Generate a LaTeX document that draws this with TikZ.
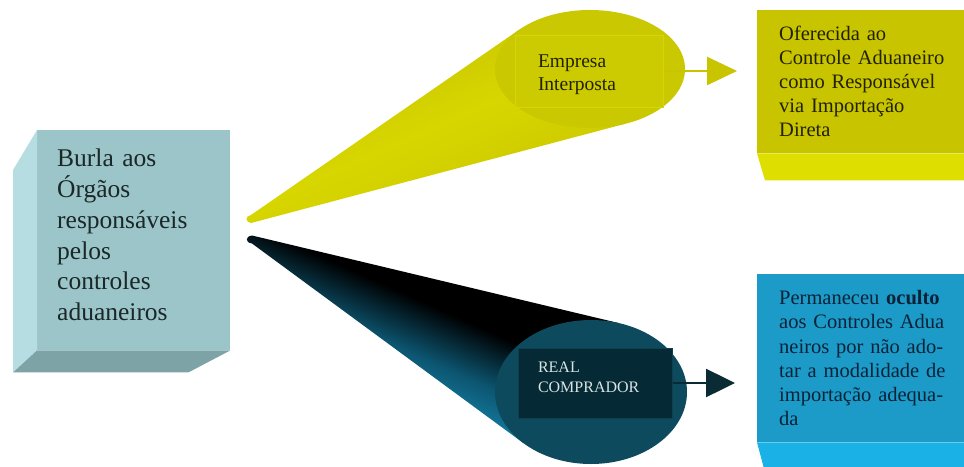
\documentclass[tikz,border=0pt]{standalone}
\usepackage{fontspec}
\setmainfont{Liberation Serif}
\usetikzlibrary{arrows.meta}
\definecolor{lfront}{HTML}{9CC5C9}
\definecolor{lside}{HTML}{B6DDE1}
\definecolor{lbottom}{HTML}{7DA3A6}
\definecolor{ltext}{HTML}{1A2828}
\definecolor{yfront}{HTML}{C8C400}
\definecolor{ybevel}{HTML}{DEDE00}
\definecolor{ytext}{HTML}{222200}
\definecolor{yA}{HTML}{C8C400}
\definecolor{yB}{HTML}{D8D600}
\definecolor{yC}{HTML}{C2BE00}
\definecolor{yface}{HTML}{CAC800}
\definecolor{yrect}{HTML}{CCCA00}
\definecolor{yrectline}{HTML}{D8D600}
\definecolor{bfront}{HTML}{1C9BC9}
\definecolor{bbevel}{HTML}{1AB2E6}
\definecolor{btext}{HTML}{0A2238}
\definecolor{bA}{HTML}{1CA6D6}
\definecolor{bB}{HTML}{0C5570}
\definecolor{bface}{HTML}{0D4A5E}
\definecolor{brect}{HTML}{052A36}
\definecolor{brectline}{HTML}{10404E}
\definecolor{realtext}{HTML}{D8E4E4}
\definecolor{barrow}{HTML}{0A2A34}
\pgfdeclareverticalshading{yconeshade}{100bp}{color(0bp)=(yA); color(25bp)=(yA); color(50bp)=(yB); color(75bp)=(yC); color(100bp)=(yC)}
\pgfdeclareverticalshading{bconeshade}{100bp}{color(0bp)=(bA); color(30bp)=(bA); color(46bp)=(bB); color(56bp)=(black); color(100bp)=(black)}
\begin{document}
\begin{tikzpicture}[x=1pt,y=-1pt,
  face/.style={rectangle, anchor=north west, inner ysep=0pt, align=left},
  yarrowstyle/.style={draw=yfront, line width=2.5pt, -{Triangle[length=30pt,width=28pt]}},
  barrowstyle/.style={draw=barrow, line width=2.5pt, -{Triangle[length=29pt,width=28pt]}}]
\useasboundingbox (0,0) rectangle (964,466);
\clip (0,0) rectangle (964,466);
\fill[white] (0,0) rectangle (964,466);

% yellow cone
\shade[shading=yconeshade, shading angle=23.7] (518.9,29.9) -- (251,215) .. controls (245,216) and (245,222) .. (251,223) -- (625.8,123.6) -- (590,69) -- cycle;
\fill[yface] (590,69) ellipse [x radius=95pt, y radius=59pt];
\node[face, anchor=center, fill=yrect, draw=yrectline, line width=1pt, minimum height=72pt, text width=102pt, inner xsep=23pt, font=\fontsize{19.5}{23}\selectfont, text=ytext] (emp) at (589,71) {\rule{0pt}{20pt}Empresa\\Interposta};

% blue cone
\shade[shading=bconeshade, shading angle=-24.1] (618.8,323.1) -- (252,235.5) .. controls (245,236.5) and (245,242.5) .. (252,243.5) -- (523.4,443.1) -- (591,392) -- cycle;
\fill[bface] (591,392) ellipse [x radius=96pt, y radius=72pt];
\node[face, anchor=center, fill=brect, draw=brectline, line width=1pt, minimum height=70pt, text width=114pt, inner xsep=20pt, font=\fontsize{16}{20}\selectfont, text=realtext] (real) at (595,383) {REAL\\COMPRADOR\rule[-10.6pt]{0pt}{10.6pt}};

% left box
\node[face, fill=lfront, minimum height=220pt, text width=153pt, inner xsep=20pt, font=\fontsize{25.5}{30.7}\selectfont, text=ltext] (burla) at (37,130) {Burla aos\\Órgãos\\responsáveis\\pelos\\controles\\aduaneiros\rule[-10.6pt]{0pt}{10.6pt}};
\fill[lside] (burla.north west) -- ++(-24,40) -- ++(0,202) -- (burla.south west) -- cycle;
\fill[lbottom] (burla.south west) -- ++(-24,22) -- ([shift={(-42,22)}]burla.south east) -- (burla.south east) -- cycle;

% right boxes
\node[face, fill=yfront, minimum height=143pt, text width=196pt, inner xsep=22pt, font=\fontsize{20.5}{24}\selectfont, text=ytext] (yb) at (757,10) {Oferecida ao\\Controle Aduaneiro\\como Responsável\\via Importação\\Direta};
\fill[ybevel] (yb.south west) -- (yb.south east) -- ++(0,27) -- ([shift={(8,27)}]yb.south west) -- cycle;

\node[face, fill=bfront, minimum height=168pt, text width=196pt, inner xsep=22pt, font=\fontsize{20.5}{24.3}\selectfont, text=btext] (bb) at (757,274) {Permaneceu \textbf{oculto}\\aos Controles Adua\\neiros por não ado-\\tar a modalidade de\\importação adequa-\\da};
\fill[bbevel] (bb.south west) -- (bb.south east) -- ++(0,30) -- ([shift={(8,30)}]bb.south west) -- cycle;

% arrows
\draw[yarrowstyle, shorten >=20pt] (emp.east) -- (emp.east -| yb.west);
\draw[barrowstyle, shorten >=22pt] (real.east) -- (real.east -| bb.west);
\end{tikzpicture}
\end{document}
